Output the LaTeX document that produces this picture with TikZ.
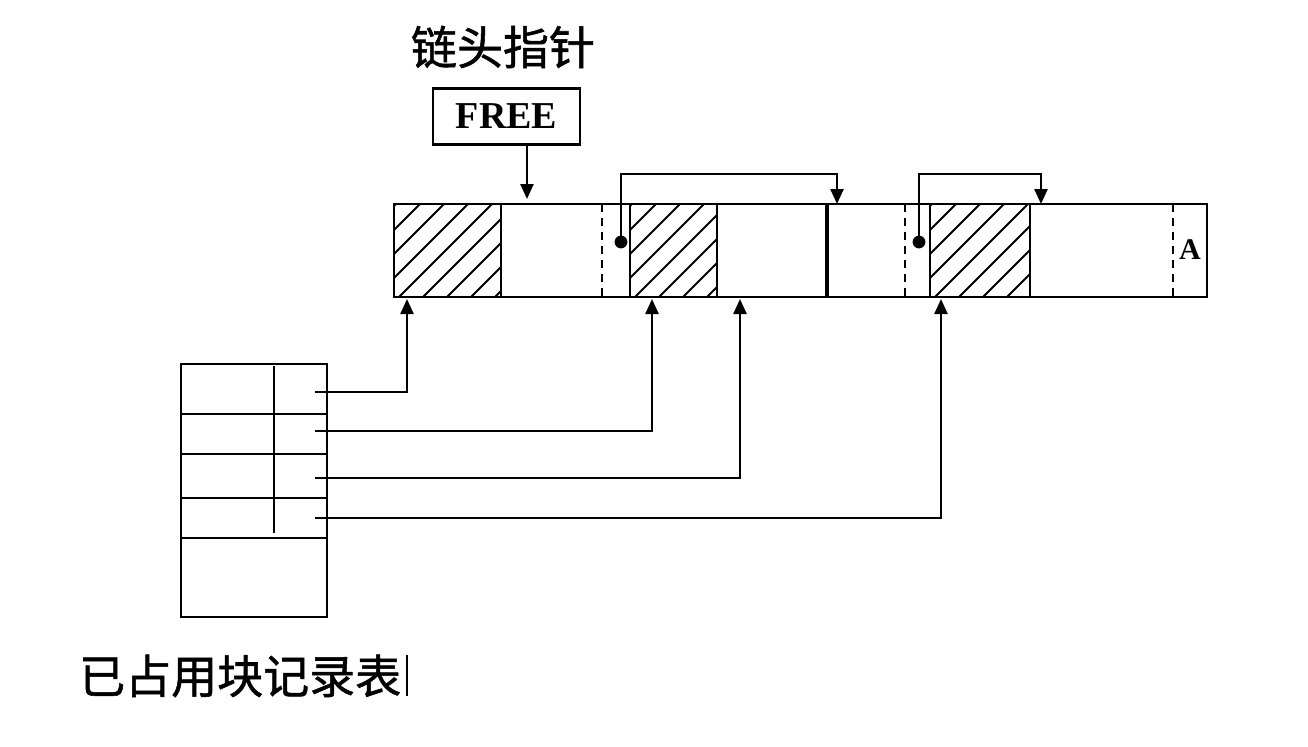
\documentclass[tikz,border=0pt]{standalone}
\usepackage{fontspec}
\setmainfont{Liberation Serif}
\newfontfamily\cjk[FakeBold=1.2]{Noto Sans CJK SC}
\usetikzlibrary{arrows.meta}

\begin{document}
\begin{tikzpicture}[x=0.5pt,y=-0.5pt,line width=1.2pt,>={Triangle[length=7.5pt,width=6.5pt]}]
  \tikzset{every node/.style={inner sep=0pt},
           cjktext/.style={font=\cjk\fontsize{23}{23}\selectfont},
           hatch/.style={line width=0.9pt},
           split/.style={dash pattern=on 4pt off 3pt},
           link/.style={->,line width=1.2pt}}
  \useasboundingbox (0,0) rectangle (1308,746);

  % labels and head pointer
  \node[cjktext] (head) at (503,47) {链头指针};
  \node[draw, minimum width=73.5pt, minimum height=28pt,
        font=\bfseries\fontsize{19}{19}\selectfont] (free) at (506.5,116.5) {FREE};
  \node[cjktext, anchor=west] (tabname) at (78,676) {已占用块记录表};
  \draw[line width=0.9pt] (407,655) -- (407,696);

  % memory bar
  \foreach \xa/\xb in {394/501, 630/717, 930/1030}{
    \begin{scope}
      \clip (\xa,204) rectangle (\xb,297);
      \foreach \s in {-115,-91,...,140}
        \draw[hatch] (\xa+\s,297) -- ++(110,-110);
    \end{scope}
  }
  \draw (394,204) rectangle (1207,297);
  \foreach \xx in {501,630,717,930,1030}
    \draw (\xx,204) -- (\xx,297);
  \draw[line width=1.8pt] (827,204) -- (827,297);
  \foreach \xx in {602,905,1173}
    \draw[split] (\xx,204) -- (\xx,297);
  \node[font=\bfseries\fontsize{15}{15}\selectfont] (tag) at (1190,250) {A};

  % free chain
  \coordinate (f0) at (527,199);
  \draw[link] (free.south -| f0) -- (f0);
  \coordinate (d1) at (621,242);
  \coordinate (d2) at (919,242);
  \coordinate (n1) at (837,204);
  \coordinate (n2) at (1041,204);
  \fill (d1) circle (3.2pt);
  \fill (d2) circle (3.2pt);
  \draw[link] (d1) -- ++(0,-68) -| (n1);
  \draw[link] (d2) -- ++(0,-68) -| (n2);

  % record table
  \draw (181,364) rectangle (327,617);
  \foreach \yy in {414,454,498,538}
    \draw (181,\yy) -- (327,\yy);
  \draw (274,366) -- (274,533);
  \coordinate (r1) at (315,392);
  \coordinate (r2) at (315,431);
  \coordinate (r3) at (315,478);
  \coordinate (r4) at (315,518);
  \coordinate (b1) at (407,299);
  \coordinate (b2) at (652,299);
  \coordinate (b3) at (740,299);
  \coordinate (b4) at (941,299);
  \draw[link] (r1) -| (b1);
  \draw[link] (r2) -| (b2);
  \draw[link] (r3) -| (b3);
  \draw[link] (r4) -| (b4);
\end{tikzpicture}
\end{document}
